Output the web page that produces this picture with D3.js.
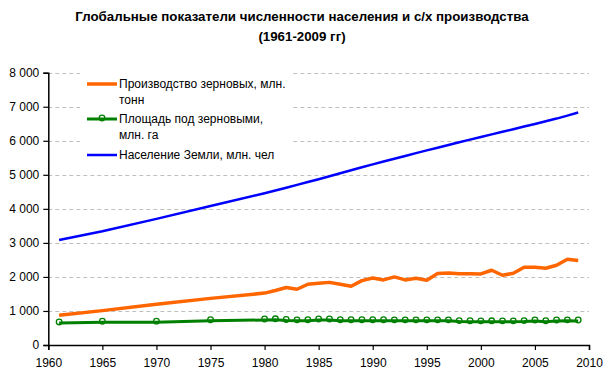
<!DOCTYPE html>
<html>
<head>
<meta charset="utf-8">
<script src="https://cdn.jsdelivr.net/npm/d3@7"></script>
<style>
  body { margin: 0; background: #fff; }
  text { font-family: "Liberation Sans", Arial, sans-serif; }
</style>
</head>
<body>
<div id="chart"></div>
<script>

  // ---------------------------//
  //            DATA            //
  // ---------------------------//

  var years = [1961, 1965, 1970, 1975, 1980, 1981, 1982, 1983, 1984, 1985, 1986, 1987, 1988,
    1989, 1990, 1991, 1992, 1993, 1994, 1995, 1996, 1997, 1998, 1999, 2000, 2001, 2002,
    2003, 2004, 2005, 2006, 2007, 2008, 2009];

  // Производство зерновых, млн. тонн
  var grain = [873, 1010, 1195, 1370, 1525, 1600, 1690, 1637, 1785, 1814, 1840, 1785, 1726,
    1891, 1970, 1912, 2000, 1912, 1961, 1902, 2100, 2117, 2095, 2090, 2088, 2196, 2049,
    2108, 2284, 2284, 2255, 2343, 2520, 2480];

  // Площадь под зерновыми, млн. га
  var area = [648, 670, 672, 712, 735, 740, 720, 710, 712, 735, 735, 712, 712,
    712, 712, 712, 710, 710, 710, 710, 710, 710, 688, 685, 680, 682, 680,
    680, 688, 705, 685, 705, 710, 705];

  // Население Земли, млн. чел
  var population = [3085, 3340, 3705, 4082, 4460, 4540, 4622, 4705, 4788, 4872, 4958, 5045, 5133,
    5220, 5306, 5390, 5473, 5555, 5637, 5718, 5797, 5876, 5955, 6033, 6110, 6187, 6264,
    6341, 6418, 6495, 6573, 6652, 6740, 6830];

  var xTicks = [1960, 1965, 1970, 1975, 1980, 1985, 1990, 1995, 2000, 2005, 2010];
  var yTicks = [0, 1000, 2000, 3000, 4000, 5000, 6000, 7000, 8000];

  var titleLines = ["Глобальные показатели численности населения и с/х производства", "(1961-2009 гг)"];

  var series = [
    { name: ["Производство зерновых, млн.", "тонн"], values: grain, color: "#FF6600", width: 3.5, marker: false },
    { name: ["Площадь под зерновыми,", "млн. га"], values: area, color: "#008000", width: 3, marker: true },
    { name: ["Население Земли, млн. чел"], values: population, color: "#0000FF", width: 2.5, marker: false }
  ];

  // ---------------------------//
  //         DIMENSIONS         //
  // ---------------------------//

  var width = 604;
  var height = 377;
  var margin = { top: 72.7, right: 15, bottom: 32, left: 48.3 };

  var svg = d3.select("#chart")
    .append("svg")
    .attr("width", width)
    .attr("height", height);

  var x = d3.scaleLinear()
    .domain([1960, 2010])
    .range([margin.left, width - margin.right]);

  var y = d3.scaleLinear()
    .domain([0, 8000])
    .range([height - margin.bottom, margin.top]);

  // ---------------------------//
  //          GRIDLINES         //
  // ---------------------------//

  svg.append("g")
    .selectAll("line")
    .data(yTicks.filter(function(d) { return d > 0; }))
    .enter()
    .append("line")
    .attr("x1", x(1960))
    .attr("x2", x(2010))
    .attr("y1", function(d) { return Math.round(y(d)) + 0.5; })
    .attr("y2", function(d) { return Math.round(y(d)) + 0.5; })
    .attr("stroke", "#C0C0C0")
    .attr("stroke-width", 1)
    .attr("stroke-dasharray", "4,3");

  // ---------------------------//
  //            AXES            //
  // ---------------------------//

  var fmt = function(d) { return d3.format(",")(d).replace(/,/g, " "); };

  var xAxis = svg.append("g")
    .attr("transform", "translate(0," + y(0) + ")")
    .call(d3.axisBottom(x).tickValues(xTicks).tickFormat(d3.format("d")).tickSizeOuter(0).tickSize(5).tickPadding(8));

  var yAxis = svg.append("g")
    .attr("transform", "translate(" + x(1960) + ",0)")
    .call(d3.axisLeft(y).tickValues(yTicks).tickFormat(fmt).tickSizeOuter(0).tickSize(5).tickPadding(4));

  [xAxis, yAxis].forEach(function(g) {
    g.select(".domain").attr("stroke", "#000").attr("stroke-width", 1.5);
    g.selectAll(".tick line").attr("stroke", "#000").attr("stroke-width", 1.2);
    g.selectAll(".tick text")
      .style("font-family", "'Liberation Sans', Arial, sans-serif")
      .style("font-size", "12px")
      .attr("fill", "#000");
  });

  // ---------------------------//
  //            LINES           //
  // ---------------------------//

  series.forEach(function(s) {
    var line = d3.line()
      .x(function(d, i) { return x(years[i]); })
      .y(function(d) { return y(d); });

    svg.append("path")
      .datum(s.values)
      .attr("fill", "none")
      .attr("stroke", s.color)
      .attr("stroke-width", s.width)
      .attr("stroke-linejoin", "round")
      .attr("d", line);

    if (s.marker) {
      svg.append("g")
        .selectAll("circle")
        .data(s.values)
        .enter()
        .append("circle")
        .attr("cx", function(d, i) { return x(years[i]); })
        .attr("cy", function(d) { return y(d) - 1; })
        .attr("r", 2.8)
        .attr("fill", "none")
        .attr("stroke", s.color)
        .attr("stroke-width", 1.3);
    }
  });

  // ---------------------------//
  //           LEGEND           //
  // ---------------------------//

  var legend = svg.append("g");

  legend.append("rect")
    .attr("x", 80)
    .attr("y", 66)
    .attr("width", 213)
    .attr("height", 100)
    .attr("fill", "#fff");

  var legendY = [84, 119, 155];

  series.forEach(function(s, i) {
    var ly = legendY[i];
    legend.append("line")
      .attr("x1", 87)
      .attr("x2", 117)
      .attr("y1", ly)
      .attr("y2", ly)
      .attr("stroke", s.color)
      .attr("stroke-width", s.width);

    if (s.marker) {
      legend.append("circle")
        .attr("cx", 102)
        .attr("cy", ly - 1)
        .attr("r", 2.8)
        .attr("fill", "none")
        .attr("stroke", s.color)
        .attr("stroke-width", 1.3);
    }

    s.name.forEach(function(t, j) {
      legend.append("text")
        .attr("x", 119)
        .attr("y", ly + 4 + j * 16)
        .style("font-size", "12px")
        .attr("fill", "#000")
        .text(t);
    });
  });

  // ---------------------------//
  //            TITLE           //
  // ---------------------------//

  svg.selectAll(".title")
    .data(titleLines)
    .enter()
    .append("text")
    .attr("class", "title")
    .attr("x", 302)
    .attr("y", function(d, i) { return 21 + i * 20; })
    .attr("text-anchor", "middle")
    .style("font-size", "13.3px")
    .style("font-weight", "bold")
    .text(function(d) { return d; });

</script>
</body>
</html>
